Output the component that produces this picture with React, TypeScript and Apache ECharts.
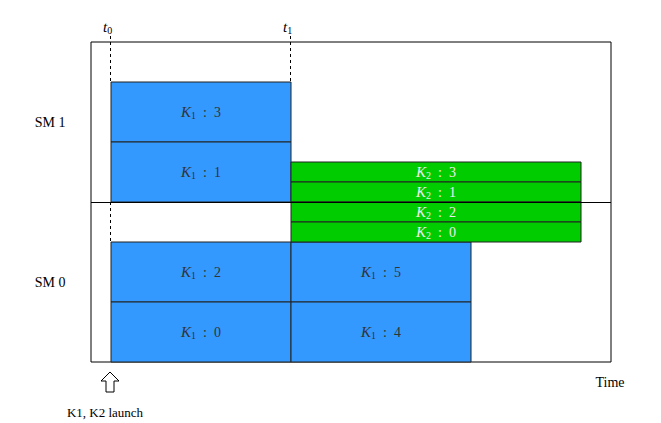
import { useEffect, useRef } from 'react'
import * as echarts from 'echarts'

// blocks: [x0, x1, y0, y1, kernel, block id]
const k1Blocks = [
  [1, 10, 11, 14, 1, 3],
  [1, 10, 8, 11, 1, 1],
  [1, 10, 3, 6, 1, 2],
  [1, 10, 0, 3, 1, 0],
  [10, 19, 3, 6, 1, 5],
  [10, 19, 0, 3, 1, 4],
]
const k2Blocks = [
  [10, 24.5, 9, 10, 2, 3],
  [10, 24.5, 8, 9, 2, 1],
  [10, 24.5, 7, 8, 2, 2],
  [10, 24.5, 6, 7, 2, 0],
]
const smLabels = [
  { name: 'SM 1', y: 12 },
  { name: 'SM 0', y: 4 },
]

const serif = '"Liberation Serif", "DejaVu Serif", serif'

const rich = {
  k: { fontStyle: 'italic' as const, fontFamily: serif, fontSize: 15, color: '#fff' },
  s: { fontFamily: serif, fontSize: 10, color: '#fff', verticalAlign: 'bottom' as const, padding: [6, 0, 0, 0] },
  n: { fontFamily: serif, fontSize: 14, color: '#fff' },
}

const blockSeries = (data: number[][], color: string) => ({
  type: 'custom',
  data,
  renderItem: (_p: any, api: any) => {
    const a = api.coord([api.value(0), api.value(3)])
    const b = api.coord([api.value(1), api.value(2)])
    return {
      type: 'rect',
      shape: { x: a[0], y: a[1], width: b[0] - a[0], height: b[1] - a[1] },
      style: {
        fill: color,
        stroke: '#222',
        lineWidth: 1,
        text: `{k|K}{s|${api.value(4)}}{n| : ${api.value(5)}}`,
        rich,
        textFill: '#fff',
      },
      textContent: {
        style: { text: `{k|K}{s|${api.value(4)}}{n|  :  ${api.value(5)}}`, rich },
      },
      textConfig: { position: 'inside' },
    }
  },
})

const App = () => {
  const chartRef = useRef<HTMLDivElement>(null)

  useEffect(() => {
    document.body.style.margin = '0'
    if (!chartRef.current) return
    const chart = echarts.init(chartRef.current, null, { renderer: 'svg' })
    const tRich = {
      t: { fontStyle: 'italic' as const, fontFamily: serif, fontSize: 15, color: '#000' },
      s: { fontFamily: serif, fontSize: 10, color: '#000', padding: [6, 0, 0, 0] },
    }
    chart.setOption({
      animation: false,
      grid: { left: 91, top: 42, width: 520, height: 320, show: true, borderColor: '#000', borderWidth: 1 },
      xAxis: { type: 'value', min: 0, max: 26, show: false },
      yAxis: { type: 'value', min: 0, max: 16, show: false },
      series: [
        {
          type: 'line',
          data: [],
          markLine: {
            silent: true,
            symbol: 'none',
            label: { show: false },
            lineStyle: { color: '#000', type: 'solid', width: 1 },
            data: [[{ coord: [0, 8] }, { coord: [26, 8] }]],
          },
        },
        blockSeries(k1Blocks, '#3399ff'),
        blockSeries(k2Blocks, '#00cc00'),
      ],
      graphic: [
        { type: 'line', shape: { x1: 110.5, y1: 36, x2: 110.5, y2: 82 }, style: { stroke: '#000', lineDash: [3, 3] } },
        { type: 'line', shape: { x1: 110.5, y1: 202, x2: 110.5, y2: 242 }, style: { stroke: '#000', lineDash: [3, 3] } },
        { type: 'line', shape: { x1: 290.5, y1: 36, x2: 290.5, y2: 162 }, style: { stroke: '#000', lineDash: [3, 3] } },
        { type: 'text', x: 103, y: 19, style: { text: '{t|t}{s|0}', rich: tRich } },
        { type: 'text', x: 283, y: 19, style: { text: '{t|t}{s|1}', rich: tRich } },
        ...smLabels.map((s) => ({
          type: 'text',
          x: 50,
          y: 362 - s.y * 20,
          style: { text: s.name, font: `14px ${serif}`, fill: '#000', align: 'center', verticalAlign: 'middle' },
        })),
        { type: 'text', x: 610, y: 382, style: { text: 'Time', font: `14px ${serif}`, fill: '#000', align: 'center', verticalAlign: 'middle' } },
        { type: 'text', x: 105, y: 412, style: { text: 'K1, K2 launch', font: `13px ${serif}`, fill: '#000', align: 'center', verticalAlign: 'middle' } },
        {
          type: 'polygon',
          shape: { points: [[110, 372], [119, 381], [114, 381], [114, 392], [106, 392], [106, 381], [101, 381]] },
          style: { fill: '#fff', stroke: '#000', lineWidth: 1 },
        },
      ],
    })
    return () => chart.dispose()
  }, [])

  return <div ref={chartRef} style={{ width: 661, height: 423, background: '#fff' }} />
}

export default App
